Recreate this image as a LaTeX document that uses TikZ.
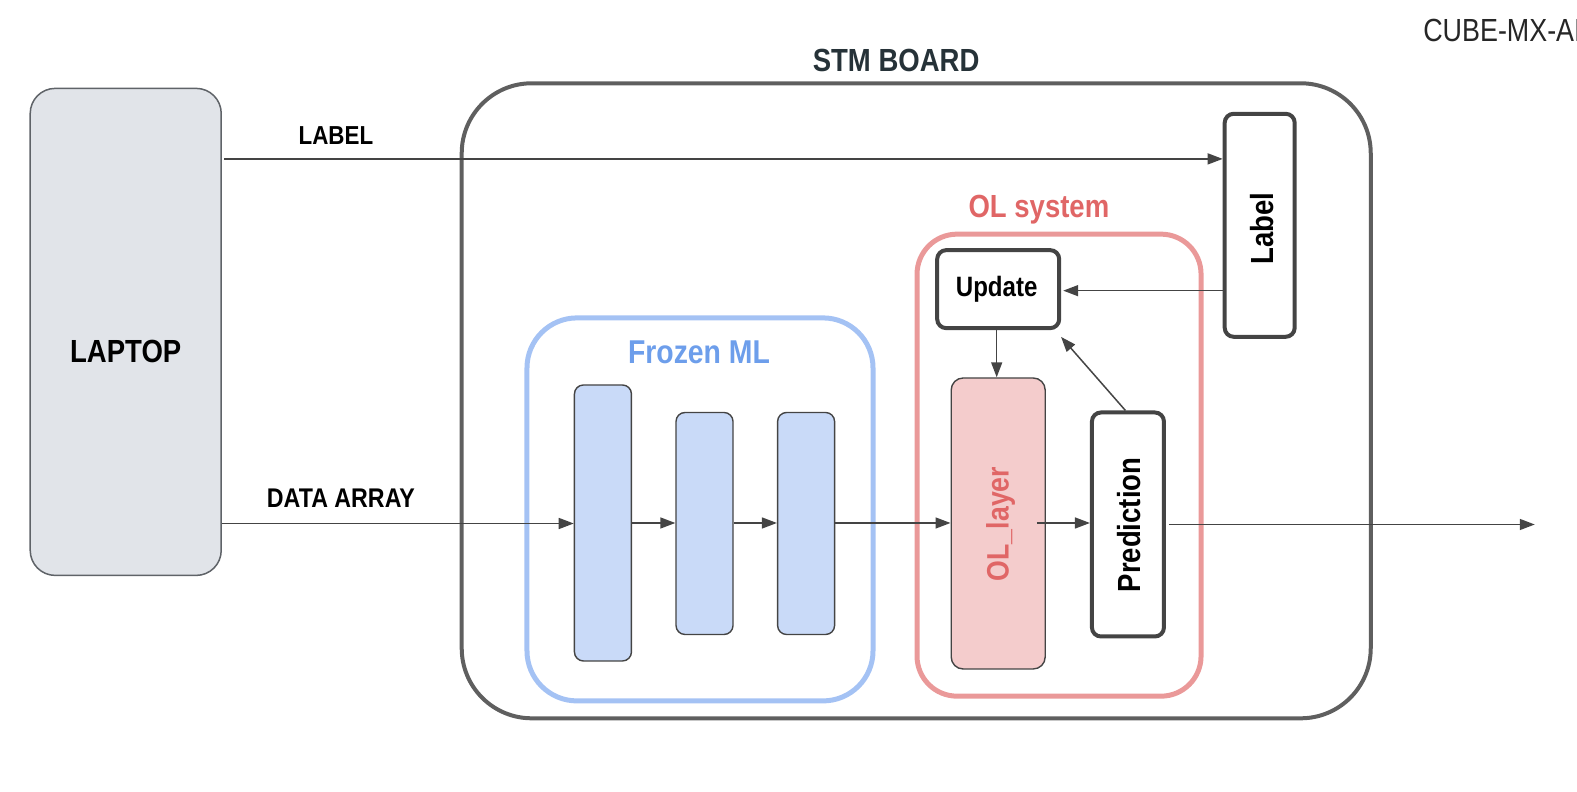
\documentclass[tikz,border=0pt]{standalone}
\usepackage{fontspec}
\setmainfont{Liberation Sans}[FakeStretch=0.86]
\newfontfamily\lightfont{Liberation Sans}[FakeStretch=0.84]
\usetikzlibrary{arrows.meta}
\definecolor{edge}{HTML}{444444}
\definecolor{board}{HTML}{5F5F5F}
\definecolor{laptopfill}{HTML}{E1E4E9}
\definecolor{laptopedge}{HTML}{5F6368}
\definecolor{navy}{HTML}{263238}
\definecolor{olred}{HTML}{E06666}
\definecolor{olframe}{HTML}{EA9999}
\definecolor{olfill}{HTML}{F4CCCC}
\definecolor{mlblue}{HTML}{6D9EEB}
\definecolor{mlframe}{HTML}{A4C2F4}
\definecolor{mlfill}{HTML}{C9DAF8}
\tikzset{
  thickbox/.style={draw=edge, line width=4pt, fill=white, rounded corners=9pt, inner sep=0pt},
  layerbox/.style={draw=edge, line width=1.4pt, fill=mlfill, rounded corners=9pt, inner sep=0pt},
  conn/.style={draw=edge, line width=1.5pt, -{Triangle[length=15pt,width=11pt]}},
  bf/.style={font=\bfseries\fontsize{#1}{#1}\selectfont},
}
\begin{document}
\begin{tikzpicture}[x=1.0057pt,y=-1.0057pt]
\useasboundingbox (0,0) rectangle (1568,787);
\clip (0,0) rectangle (1568,787);

% laptop
\node[draw=laptopedge, line width=1.5pt, fill=laptopfill, rounded corners=25pt, minimum width=191pt, minimum height=487pt, inner sep=0pt] (laptop) at (125,330) {};
\node[bf=32] (laptoptxt) at (125,349) {LAPTOP};

% board
\node[draw=board, line width=4pt, rounded corners=70pt, minimum width=909pt, minimum height=635pt, inner sep=0pt] (board) at (911,398.5) {};
\node[bf=32, text=navy] (boardtxt) at (891,60) {STM BOARD};

% frozen ML
\node[draw=mlframe, line width=5pt, rounded corners=50pt, minimum width=346pt, minimum height=383pt, inner sep=0pt] (frozen) at (696,506.5) {};
\node[bf=33, text=mlblue] (frozentxt) at (695,350) {Frozen ML};
\node[layerbox, minimum width=57pt, minimum height=276pt] (b1) at (599.5,520) {};
\node[layerbox, minimum width=57pt, minimum height=222pt] (b2) at (700.5,520.5) {};
\node[layerbox, minimum width=57pt, minimum height=222pt] (b3) at (801.5,520.5) {};

% OL system
\node[draw=olframe, line width=5pt, rounded corners=40pt, minimum width=284pt, minimum height=462pt, inner sep=0pt] (olsys) at (1053,462.5) {};
\node[bf=32, text=olred] (olsystxt) at (1033,208) {OL system};
\node[thickbox, minimum width=122pt, minimum height=78pt] (update) at (992.5,287.5) {};
\node[bf=28] (updatetxt) at (991,288) {Update};
\node[draw=edge, line width=1.4pt, fill=olfill, rounded corners=12pt, minimum width=94pt, minimum height=291pt, inner sep=0pt] (ollayer) at (992.5,520.5) {};
\node[rotate=90, bf=31, text=olred] (ollayertxt) at (995,521) {OL\_layer};
\node[thickbox, minimum width=72pt, minimum height=224pt] (pred) at (1121.5,521.5) {};
\node[rotate=90, bf=32] (predtxt) at (1123,522) {Prediction};

% label box
\node[thickbox, minimum width=70pt, minimum height=223pt] (labelbox) at (1252.5,224) {};
\node[rotate=90, bf=32] (labeltxt) at (1255,227) {Label};

% CUBE text
\node[anchor=west, inner sep=0pt, font=\lightfont\fontsize{32}{32}\selectfont, text=black!85] (cube) at (1415,30) {CUBE-MX-AI};

% connectors
\coordinate (labstart) at (223,158);
\coordinate (datastart) at (221,520.5);
\coordinate (outend) at (1526,521.5);
\draw[conn] (labstart) -- (labstart -| labelbox.west);
\node[bf=26] (labeltext) at (334,135) {LABEL};
\draw[conn] (datastart) -- (datastart -| b1.west);
\node[bf=27] (datatext) at (339,495) {DATA ARRAY};
\draw[conn] (b1.east |- 0,520) -- (b2.west |- 0,520);
\draw[conn] (b2.east |- 0,520) -- (b3.west |- 0,520);
\draw[conn] (b3.east |- 0,520) -- (ollayer.west |- 0,520);
\draw[conn] (1031,520) -- (pred.west |- 0,520);
\draw[conn] ([xshift=3pt]pred.east |- outend) -- (outend);
\draw[conn] (labelbox.west |- 0,289) -- ([xshift=2pt]update.east |- 0,289);
\draw[conn] (update.south -| 991,0) -- (ollayer.north -| 991,0);
\draw[conn] (pred.north -| 1119,0) -- (1055,335);
\end{tikzpicture}
\end{document}
